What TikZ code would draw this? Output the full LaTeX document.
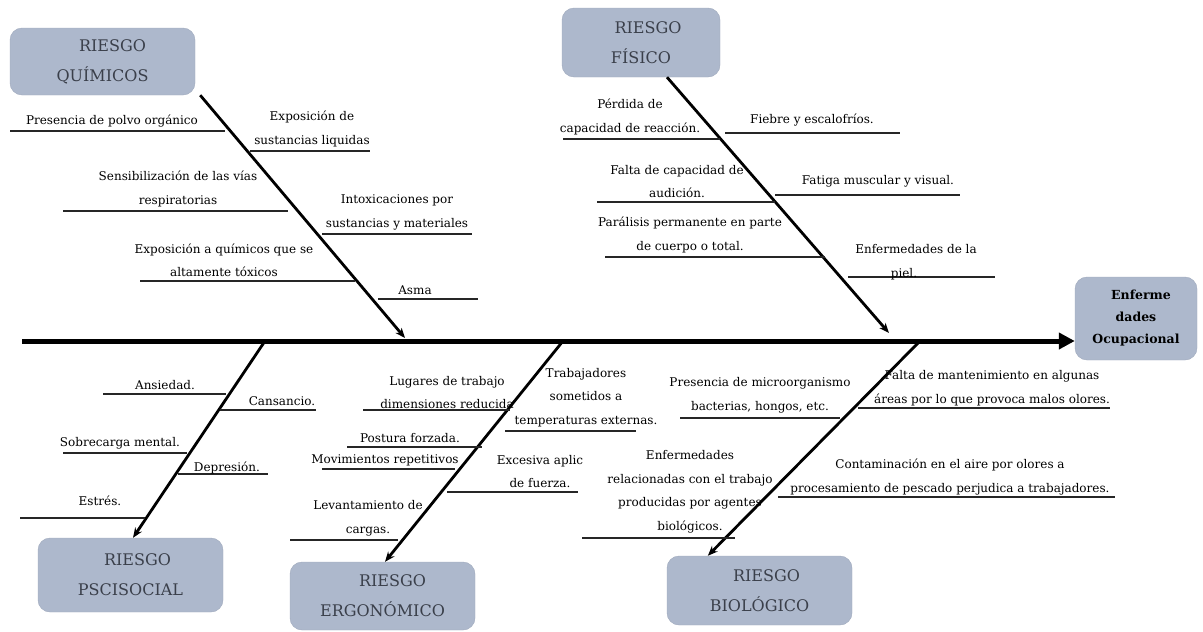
\documentclass[tikz,border=0pt]{standalone}
\usepackage{fontspec}
\setmainfont{DejaVu Serif}
\usetikzlibrary{arrows.meta}
\definecolor{boxfill}{HTML}{ADB8CC}
\definecolor{titletext}{HTML}{3A3F4A}
\begin{document}
\begin{tikzpicture}[x=1pt,y=-1pt,
  riskbox/.style={rounded corners=12pt, fill=boxfill, draw=boxfill!92!black, line width=0.4pt,
    align=center, text=titletext, font=\fontsize{16}{30}\selectfont, inner sep=0pt,
    minimum width=185pt},
  lab/.style={align=center, inner sep=0pt, anchor=south, font=\fontsize{12}{23.5}\selectfont},
  sub/.style={line width=1.6pt, draw=black!85},
  bone/.style={line width=2.8pt, -{Stealth[length=10pt,width=8pt]}},
  spine/.style={line width=5pt, -{Triangle[length=16pt,width=16pt]}}]
\useasboundingbox (0,0) rectangle (1203,632);

% boxes
\node[riskbox, minimum height=67pt] (qui) at (102.5,61.5) {\hspace*{20pt}RIESGO\\QUÍMICOS};
\node[riskbox, minimum width=158pt, minimum height=69pt] (fis) at (641,42.5) {\hspace*{14pt}RIESGO\\FÍSICO};
\node[riskbox, minimum height=74pt] (psc) at (130.5,575) {\hspace*{14pt}RIESGO\\PSCISOCIAL};
\node[riskbox, minimum height=68pt] (erg) at (382.5,596) {\hspace*{20pt}RIESGO\\ERGONÓMICO};
\node[riskbox, minimum height=69pt] (bio) at (759.5,590.5) {\hspace*{14pt}RIESGO\\BIOLÓGICO};
\node[riskbox, minimum width=122pt, minimum height=83pt, text=black,
  font=\bfseries\fontsize{12.5}{22}\selectfont] (head) at (1136,318.5)
  {\hspace*{10pt}Enferme\\dades\hspace*{8pt}\\Ocupacional};

% spine
\coordinate (sp0) at (22,341);
\draw[spine] (sp0) -- (sp0 -| head.west);

% bones
\coordinate (qt) at (405,338);
\coordinate (ft) at (889,333);
\coordinate (ps) at (265,341);
\coordinate (es) at (563,341);
\coordinate (bs) at (920,341);
\draw[bone] ([xshift=5pt]qui.south east) -- (qt);
\draw[bone] ([xshift=26pt]fis.south) -- (ft);
\draw[bone] (ps) -- ([xshift=2.5pt]psc.north);
\draw[bone] (es) -- ([xshift=2.5pt]erg.north);
\draw[bone] (bs) -- ([xshift=41pt]bio.north west);

% QUIMICOS labels
\draw[sub] (10,131) -- (225,131);
\node[lab] (l1) at (112,127) {Presencia de polvo orgánico};
\draw[sub] (250,151) -- (370,151);
\node[lab] (l2) at (312,147) {Exposición de\\sustancias liquidas};
\draw[sub] (63,211) -- (288,211);
\node[lab] (l3) at (178,207) {Sensibilización de las vías\\respiratorias};
\draw[sub] (322,234) -- (472,234);
\node[lab] (l4) at (397,230) {Intoxicaciones por\\sustancias y materiales};
\draw[sub] (140,281) -- (355,281);
\node[lab] (l5) at (224,277) {Exposición a químicos que se\\altamente tóxicos};
\draw[sub] (378,299) -- (478,299);
\node[lab] (l6) at (415,295) {Asma};

% FISICO labels
\draw[sub] (563,139) -- (720,139);
\node[lab] (l7) at (630,135) {Pérdida de\\capacidad de reacción.};
\draw[sub] (725,133) -- (900,133);
\node[lab] (l8) at (812,126) {Fiebre y escalofríos.};
\draw[sub] (597,202) -- (775,202);
\node[lab] (l9) at (677,198) {Falta de capacidad de\\audición.};
\draw[sub] (775,195) -- (960,195);
\node[lab] (l10) at (878,187) {Fatiga muscular y visual.};
\draw[sub] (605,257) -- (825,257);
\node[lab] (l11) at (690,253) {Parálisis permanente en parte\\de cuerpo o total.};
\draw[sub] (848,277) -- (995,277);
\node[lab] (l12) at (916,280) {Enfermedades de la\\piel.\hspace*{24pt}};

% PSCISOCIAL labels
\draw[sub] (103,394) -- (226,394);
\node[lab] (l13) at (165,390) {Ansiedad.};
\draw[sub] (220,410) -- (316,410);
\node[lab] (l14) at (282,406) {Cansancio.};
\draw[sub] (63,453) -- (187,453);
\node[lab] (l15) at (120,449) {Sobrecarga mental.};
\draw[sub] (178,474) -- (268,474);
\node[lab] (l16) at (227,474) {Depresión.};
\draw[sub] (20,518) -- (145,518);
\node[lab] (l17) at (100,506) {Estrés.};

% ERGONOMICO labels
\draw[sub] (363,410) -- (510,410);
\node[lab] (l18) at (447,409) {Lugares de trabajo\\dimensiones reducida};
\draw[sub] (505,431) -- (636,431);
\node[lab] (l19) at (586,427) {Trabajadores\\sometidos a\\temperaturas externas.};
\draw[sub] (347,447) -- (482,447);
\node[lab] (l20) at (410,443) {Postura forzada.};
\draw[sub] (322,469) -- (455,469);
\node[lab] (l21) at (385,466) {Movimientos repetitivos};
\draw[sub] (447,492) -- (578,492);
\node[lab] (l22) at (540,488) {Excesiva aplic\\de fuerza.};
\draw[sub] (290,540) -- (398,540);
\node[lab] (l23) at (368,536) {Levantamiento de\\cargas.};

% BIOLOGICO labels
\draw[sub] (680,418) -- (840,418);
\node[lab] (l24) at (760,413) {Presencia de microorganismo\\bacterias, hongos, etc.};
\draw[sub] (858,408) -- (1110,408);
\node[lab] (l25) at (992,406) {Falta de mantenimiento en algunas\\áreas por lo que provoca malos olores.};
\draw[sub] (582,538) -- (735,538);
\node[lab] (l26) at (690,533) {Enfermedades\\relacionadas con el trabajo\\producidas por agentes\\biológicos.};
\draw[sub] (778,497) -- (1115,497);
\node[lab] (l27) at (950,495) {Contaminación en el aire por olores a\\procesamiento de pescado perjudica a trabajadores.};
\end{tikzpicture}
\end{document}
